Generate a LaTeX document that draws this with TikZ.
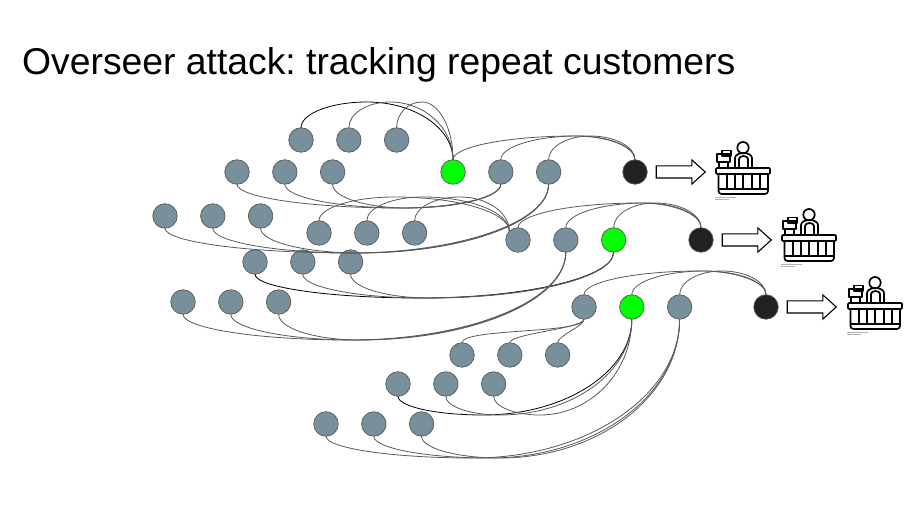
\documentclass[tikz,border=0pt]{standalone}
\usepackage{fontspec}
\setmainfont{Liberation Sans}
\usetikzlibrary{positioning,calc,shapes.arrows}
\definecolor{slate}{HTML}{78909C}
\definecolor{wirecol}{HTML}{595959}
\tikzset{
  cust/.style={circle,draw=wirecol,line width=0.7pt,fill=slate,minimum size=24.5pt,inner sep=0pt,outer sep=0pt},
  target/.style={cust,fill=green},
  till/.style={cust,fill=black!87},
  wire/.style={draw=wirecol,line width=0.8pt},
  gives/.style={single arrow,draw=black,line width=1.1pt,fill=white,minimum height=49pt,
    inner sep=5.5pt,single arrow head extend=6pt,single arrow tip angle=84,outer sep=0pt},
  register/.pic={
    \begin{scope}[yscale=-1,line width=1.7pt,line join=round]
      \draw (28,6.7) circle (5.7);
      \draw (20,27) -- (20,17) arc (180:360:8.5 and 5) -- (37,27);
      \draw (24,27) -- (24,18) arc (180:360:4.5 and 3) -- (33,27);
      \draw (7,9.5) rectangle (16,15);
      \draw (2,13) rectangle (15,21);
      \draw (4,21) rectangle (13,27);
      \draw[rounded corners=1pt] (1,27) rectangle (55,33);
      \draw[rounded corners=3pt] (3.5,33) -- (3.5,53) -- (53,53) -- (53,33);
      \draw (3.5,48) -- (53,48);
      \draw (12,33) -- (12,48);
      \draw (20,33) -- (20,48);
      \draw (28,33) -- (28,48);
      \draw (37,33) -- (37,48);
      \draw (45,33) -- (45,48);
      \fill[black!30] (0,56) rectangle (21,57);
      \fill[black!30] (0,58) rectangle (14,59);
    \end{scope}
  }
}
\newcommand{\SwingEdge}[4][]{
  \coordinate (w) at (#4);
  \draw[wire,#1] (#2) .. controls ($(#2)!.55!(#2 |- w)$) and ($(w)!.55!(w -| #2)$) .. (w)
    .. controls ($(w)!.55!(w -| #3)$) and ($(#3)!.55!(#3 |- w)$) .. (#3);
}
\frenchspacing
\begin{document}
\begin{tikzpicture}[x=1pt,y=1pt,node distance=23.3pt]
  \useasboundingbox (0,0) rectangle (924,522);
  \node[anchor=base west,font=\fontsize{37.3}{40}\selectfont,inner sep=0pt] (title) at (22,447) {Overseer attack: tracking repeat customers};

  \node[cust] (a1) at (301,382) {};
  \node[cust,right=of a1] (a2) {};
  \node[cust,right=of a2] (a3) {};

  \node[cust] (b1) at (237,350) {};
  \node[cust,right=of b1] (b2) {};
  \node[cust,right=of b2] (b3) {};

  \node[target] (s1) at (453,350) {};
  \node[cust,right=of s1] (s2) {};
  \node[cust,right=of s2] (s3) {};
  \node[till] (t1) at (635,350) {};

  \node[cust] (c1) at (165,306) {};
  \node[cust,right=of c1] (c2) {};
  \node[cust,right=of c2] (c3) {};

  \node[cust] (d1) at (319,289) {};
  \node[cust,right=of d1] (d2) {};
  \node[cust,right=of d2] (d3) {};

  \node[cust] (m1) at (518,282) {};
  \node[cust,right=of m1] (m2) {};
  \node[target,right=of m2] (m3) {};
  \node[till] (t2) at (701,282) {};

  \node[cust] (f1) at (255,260) {};
  \node[cust,right=of f1] (f2) {};
  \node[cust,right=of f2] (f3) {};

  \node[cust] (g1) at (183,220) {};
  \node[cust,right=of g1] (g2) {};
  \node[cust,right=of g2] (g3) {};

  \node[cust] (n1) at (584,215) {};
  \node[target,right=of n1] (n2) {};
  \node[cust,right=of n2] (n3) {};
  \node[till] (t3) at (766,215) {};

  \node[cust] (i1) at (462,167) {};
  \node[cust,right=of i1] (i2) {};
  \node[cust,right=of i2] (i3) {};

  \node[cust] (j1) at (398,138) {};
  \node[cust,right=of j1] (j2) {};
  \node[cust,right=of j2] (j3) {};

  \node[cust] (k1) at (326,98) {};
  \node[cust,right=of k1] (k2) {};
  \node[cust,right=of k2] (k3) {};

  \node[gives,right=9pt of t1] (out1) {};
  \node[gives,right=9pt of t2] (out2) {};
  \node[gives,right=9pt of t3] (out3) {};

  \pic at (715,381) {register};
  \pic at (781,314) {register};
  \pic at (847,246) {register};

  \SwingEdge[draw=black]{a1.north}{s1.north}{367,420}
  \SwingEdge{a2.north}{s1.north}{390,420}
  \SwingEdge{a3.north}{s1.north}{422,420}

  \SwingEdge{s1.north}{t1.north}{575,386}
  \SwingEdge{s2.north}{t1.north}{578,386}
  \SwingEdge{s3.north}{t1.north}{590,386}

  \SwingEdge{m1.north}{t2.north}{640,319}
  \SwingEdge{m2.north}{t2.north}{645,319}
  \SwingEdge{m3.north}{t2.north}{655,319}

  \SwingEdge{n1.north}{t3.north}{700,251}
  \SwingEdge{n2.north}{t3.north}{705,251}
  \SwingEdge{n3.north}{t3.north}{722,251}

  \SwingEdge{d1.north}{m1.north west}{395,325}
  \SwingEdge{d2.north}{m1.north west}{423,325}
  \SwingEdge{d3.north}{m1.north west}{460,325}

  \SwingEdge{b1.south}{s2.south}{400,314}
  \SwingEdge{b2.south}{s2.south}{403,314}
  \SwingEdge{b3.south}{s2.south}{407,314}

  \SwingEdge{c1.south}{s3.south}{350,269}
  \SwingEdge{c2.south}{s3.south}{355,269}
  \SwingEdge{c3.south}{s3.south}{360,269}

  \SwingEdge[draw=black]{f1.south}{m3.south}{420,224}
  \SwingEdge{f2.south}{m3.south}{425,224}
  \SwingEdge{f3.south}{m3.south}{430,224}

  \SwingEdge{g1.south}{m2.south}{350,182}
  \SwingEdge{g2.south}{m2.south}{355,182}
  \SwingEdge{g3.south}{m2.south}{360,182}

  \SwingEdge[draw=black]{j1.south}{n2.south}{483,107}
  \SwingEdge{j2.south}{n2.south}{500,107}
  \SwingEdge{j3.south}{n2.south}{540,107}

  \SwingEdge{k1.south}{n3.south}{473,64}
  \SwingEdge{k2.south}{n3.south}{490,64}
  \SwingEdge{k3.south}{n3.south}{500,64}

  \draw[wire] (i1.north) to[out=90,in=-90,looseness=.3] (n1.south);
  \draw[wire] (i2.north) to[out=90,in=-90,looseness=.3] (n1.south);
  \draw[wire] (i3.north) to[out=90,in=-90,looseness=.5] (n1.south);
\end{tikzpicture}
\end{document}
